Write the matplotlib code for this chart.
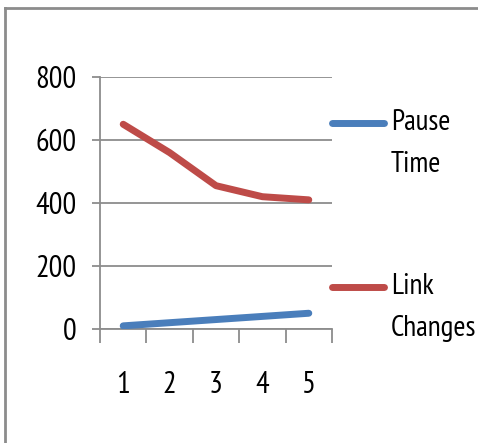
import matplotlib
matplotlib.use("Agg")
import matplotlib.pyplot as plt
from matplotlib.lines import Line2D

plt.rcParams['font.family'] = ['PT Sans Narrow', 'DejaVu Sans']

categories = [1, 2, 3, 4, 5]
pause_time = [10, 20, 30, 40, 50]
link_changes = [650, 560, 455, 420, 410]
series_names = ["Pause\nTime", "Link\nChanges"]
y_ticks = [0, 200, 400, 600, 800]

blue = "#4A7EBB"
red = "#BE4B48"
grid_gray = "#8C8C8C"

W, H = 478, 443
fig = plt.figure(figsize=(W / 100, H / 100), dpi=100)
ax = fig.add_axes([100 / W, 1 - 329 / H, 232 / W, 252 / H])

ax.plot(categories, pause_time, color=blue, lw=5, solid_capstyle='round',
        solid_joinstyle='round', zorder=3)
ax.plot(categories, link_changes, color=red, lw=5, solid_capstyle='round',
        solid_joinstyle='round', zorder=3)

ax.set_xlim(0.5, 5.5)
ax.set_ylim(0, 800)
ax.set_yticks(y_ticks)
ax.set_yticklabels([str(v) for v in y_ticks])
ax.yaxis.grid(True, color=grid_gray, lw=1.3)
ax.set_axisbelow(True)

# category boundaries as major ticks, labels on minor ticks at centers
ax.set_xticks([c - 0.5 for c in categories] + [categories[-1] + 0.5])
ax.set_xticklabels([])
ax.set_xticks(categories, minor=True)
ax.set_xticklabels([str(c) for c in categories], minor=True)
ax.tick_params(axis='x', which='major', length=10, width=1.3, color=grid_gray)
ax.tick_params(axis='x', which='minor', length=0, pad=30, labelsize=22)
ax.tick_params(axis='y', length=6, width=1.3, color=grid_gray, pad=11, labelsize=22)

for side in ('top', 'right'):
    ax.spines[side].set_visible(False)
for side in ('left', 'bottom'):
    ax.spines[side].set_color(grid_gray)
    ax.spines[side].set_linewidth(1.3)

# legend drawn beside the plot
def fx(px):
    return px / W

def fy(py):
    return 1 - py / H

for color, name, ly in [(blue, series_names[0], 123), (red, series_names[1], 287)]:
    fig.add_artist(Line2D([fx(332), fx(384)], [fy(ly), fy(ly)], color=color, lw=5,
                          solid_capstyle='round'))
    first, second = name.split("\n")
    fig.text(fx(391), fy(ly), first, fontsize=21, va='center', ha='left')
    fig.text(fx(391), fy(ly + 41), second, fontsize=21, va='center', ha='left')

# outer frame
fig.add_artist(Line2D([fx(5), fx(5)], [fy(8), 0], color="#8C8C8C", lw=2))
fig.add_artist(Line2D([fx(5), 1], [fy(8), fy(8)], color="#8C8C8C", lw=2))

fig.savefig("out.png", dpi=100)
